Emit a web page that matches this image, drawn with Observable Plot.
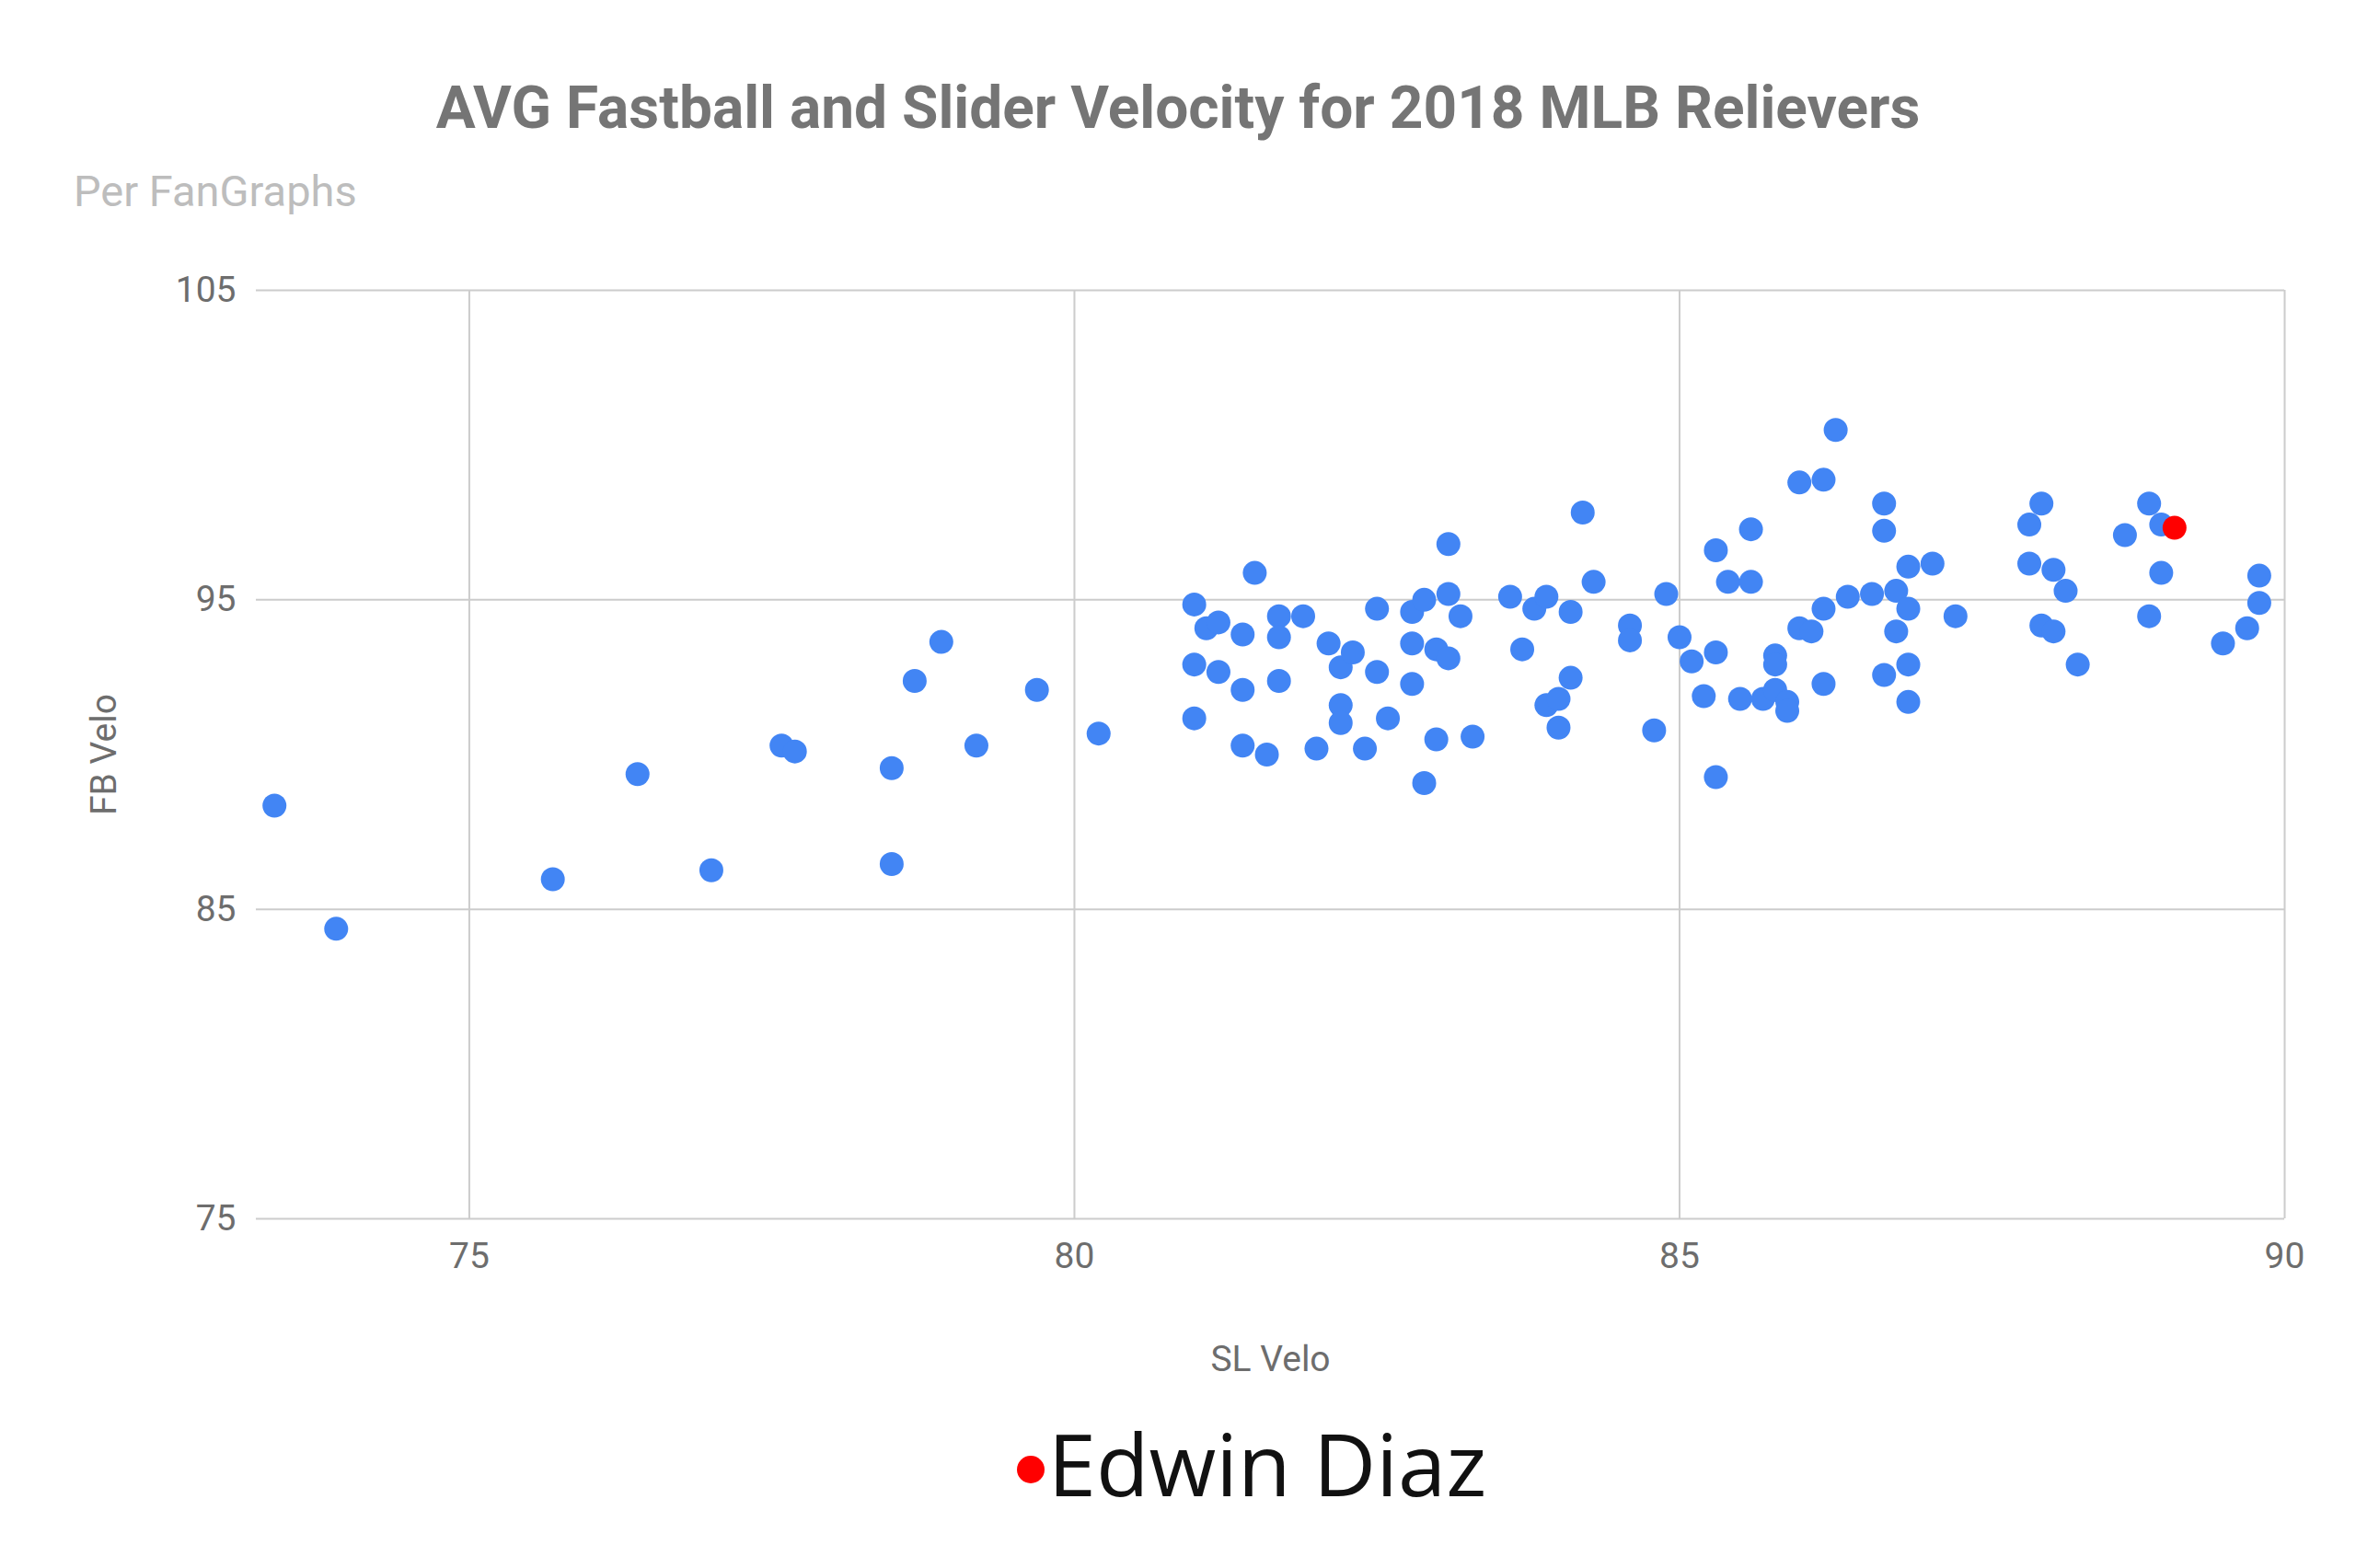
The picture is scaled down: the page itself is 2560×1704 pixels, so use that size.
<!DOCTYPE html>
<html><head><meta charset="utf-8">
<script src="https://cdn.jsdelivr.net/npm/d3@7"></script>
<script src="https://cdn.jsdelivr.net/npm/@observablehq/plot@0.6"></script>
<style>
body{margin:0;background:#fff;width:2560px;height:1704px;position:relative;overflow:hidden;font-family:Roboto,sans-serif}
#title{position:absolute;top:80px;left:0;width:2560px;text-align:center;font-size:64px;font-weight:bold;color:#757575}
#sub{position:absolute;top:180px;left:80px;font-size:47px;color:#bdbdbd}
#chart{position:absolute;top:250px;left:0}
#legend{position:absolute;top:1526px;left:80px;width:2560px;text-align:center;font-family:"Open Sans",sans-serif;font-size:94px;color:#111}
#legend span.dot{display:inline-block;width:30px;height:30px;border-radius:50%;background:#f00;margin-right:4px;vertical-align:middle;position:relative;top:-4px}
</style></head><body>
<div id="title">AVG Fastball and Slider Velocity for 2018 MLB Relievers</div>
<div id="sub">Per FanGraphs</div>
<div id="chart"></div>
<div id="legend"><span class="dot"></span>Edwin Diaz</div>
<script>
const slVelo = [73.39,73.90,75.69,76.39,77.00,77.58,77.69,78.49,78.49,78.68,78.90,79.19,79.69,80.20,
80.99,81.09,81.19,80.99,81.19,80.99,81.39,81.39,81.39,81.49,81.59,81.69,81.69,81.69,81.89,82.00,82.10,82.20,82.20,82.20,82.30,82.40,82.50,82.50,82.59,82.79,82.79,82.79,82.89,82.89,82.99,82.99,83.09,83.09,83.09,83.19,83.29,83.60,83.70,83.80,83.90,83.90,84.00,84.00,84.10,84.10,84.20,84.29,84.59,84.59,84.79,84.89,85.00,85.10,85.20,85.30,85.30,85.30,85.40,85.50,85.59,85.59,85.69,85.79,85.79,85.79,85.89,85.89,85.99,85.99,86.09,86.19,86.19,86.19,86.29,86.39,86.59,86.69,86.69,86.69,86.79,86.79,86.89,86.89,86.89,86.89,87.09,87.28,87.89,87.89,87.99,87.99,88.09,88.09,88.19,88.29,88.68,88.88,88.88,88.98,88.98,89.49,89.69,89.79,89.79];
const fbVelo = [88.35,84.37,85.97,89.37,86.26,90.29,90.10,89.56,86.46,92.38,93.64,90.29,92.09,90.68,
94.85,94.08,94.27,92.91,92.67,91.17,93.88,92.09,90.29,95.87,90.00,94.47,93.79,92.38,94.47,90.19,93.59,92.82,91.60,91.02,93.30,90.19,94.71,92.67,91.17,94.61,93.59,92.28,95.00,89.08,93.40,90.49,96.80,95.19,93.11,94.47,90.58,95.10,93.40,94.71,95.10,91.60,91.80,90.87,94.61,92.48,97.82,95.58,94.17,93.69,90.78,95.19,93.79,93.01,91.89,96.60,93.30,89.27,95.58,91.80,97.28,95.58,91.80,93.20,92.91,92.09,91.70,91.41,98.79,94.08,93.98,98.88,94.71,92.28,100.49,95.10,95.19,98.11,97.23,92.57,95.29,93.98,96.07,94.71,92.91,91.70,96.17,94.47,97.43,96.17,98.11,94.17,95.97,93.98,95.29,92.91,97.09,98.11,94.47,97.43,95.87,93.59,94.08,95.78,94.90];
const diazSL = [89.09];
const diazFB = [97.33];
const xTicks = [75,80,85,90];
const yTicks = [75,85,95,105];

const pts = slVelo.map((x,i)=>({x, y: fbVelo[i]}));
const diaz = diazSL.map((x,i)=>({x, y: diazFB[i]}));

const chart = Plot.plot({
  width: 2560, height: 1290,
  marginLeft: 278, marginRight: 78, marginTop: 65, marginBottom: 216,
  style: {fontFamily: "Roboto, sans-serif", fontSize: "39px", color: "#6d6d6d", background: "#fff"},
  x: {domain: [73.24, 90], ticks: xTicks, tickSize: 0, tickPadding: 26, label: "SL Velo", labelAnchor: "center", labelArrow: "none", labelOffset: 165},
  y: {domain: [75, 105], ticks: yTicks, tickSize: 0, tickPadding: 22, label: "FB Velo", labelAnchor: "center", labelArrow: "none", labelOffset: 180},
  marks: [
    Plot.gridX(xTicks, {stroke: "#cccccc", strokeOpacity: 1, strokeWidth: 2}),
    Plot.gridY(yTicks, {stroke: "#cccccc", strokeOpacity: 1, strokeWidth: 2}),
    Plot.dot(pts, {x: "x", y: "y", r: 13, fill: "#4285F4"}),
    Plot.dot(diaz, {x: "x", y: "y", r: 13, fill: "#ff0000"})
  ]
});
document.getElementById("chart").appendChild(chart);
</script>
</body></html>
